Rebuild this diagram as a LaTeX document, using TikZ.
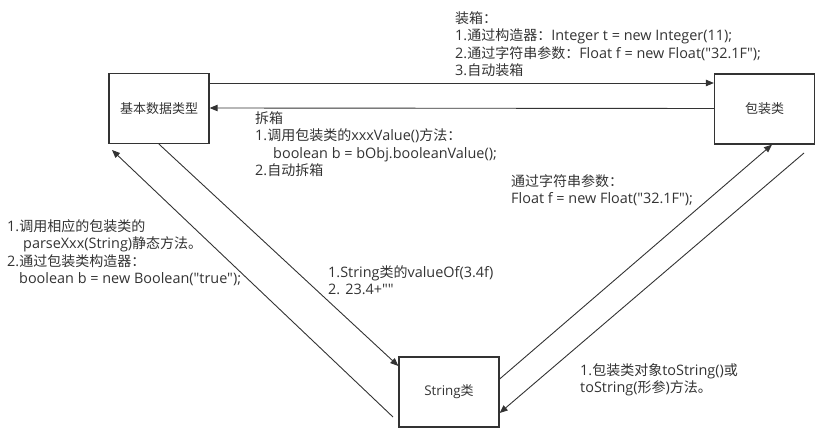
\documentclass[tikz,border=0pt]{standalone}
\usepackage{fontspec}
\setmainfont{Open Sans}[Scale=1.03,Ligatures=TeXOff]
\newfontfamily\zhfont{Noto Sans CJK SC}[Ligatures=TeXOff]
\newcommand\zh[1]{{\zhfont #1}}
\usetikzlibrary{arrows.meta,calc}
\definecolor{ink}{HTML}{333333}
\begin{document}
\begin{tikzpicture}[x=1pt,y=-1pt,
  box/.style={draw=ink,line width=1.3pt,minimum width=100pt,minimum height=70pt,inner sep=0pt,font=\fontsize{13}{15}\selectfont,text=ink},
  conn/.style={draw=ink,line width=0.9pt,-{Triangle[length=8pt,width=6.5pt]}},
  lbl/.style={anchor=north west,align=left,inner sep=0pt,text=ink,font=\fontsize{14}{17.5}\selectfont}]
\useasboundingbox (0,0) rectangle (825,443);
\node[box] (A) at (159,108.5) {\zh{基本数据类型}};
\node[box] (B) at (764.5,109) {\zh{包装类}};
\node[box] (C) at (449,392) {String\zh{类}};
\coordinate (cA) at (393,417);
\coordinate (tA) at (112,150);
\coordinate (sB) at (804,153);
\draw[conn] ([yshift=25.5pt]A.east) -- ([yshift=26pt]B.west);
\draw[conn] ([yshift=0.5pt]B.west) -- ([yshift=0.5pt]A.east);
\draw[conn] (A.south) -- ([yshift=26pt]C.west);
\draw[conn] (cA) -- (tA);
\draw[conn] ([yshift=13pt]C.east) -- ([xshift=7.5pt]B.south);
\draw[conn] (sB) -- ([yshift=-21pt]C.east);
\node[lbl] (l1) at (455,11) {\zh{装箱：}\\1.\zh{通过构造器：}Integer t = new Integer(11);\\2.\zh{通过字符串参数：}Float f = new Float("32.1F");\\3.\zh{自动装箱}};
\node[lbl] (l2) at (255,111) {\zh{拆箱}\\1.\zh{调用包装类的}xxxValue()\zh{方法：}\\\hspace*{18pt}boolean b = bObj.booleanValue();\\2.\zh{自动拆箱}};
\node[lbl] (l3) at (511,174) {\zh{通过字符串参数：}\\Float f = new Float("32.1F");};
\node[lbl] (l4) at (7,219) {1.\zh{调用相应的包装类的}\\\hspace*{16pt}parseXxx(String)\zh{静态方法。}\\2.\zh{通过包装类构造器：}\\\hspace*{12pt}boolean b = new Boolean("true");};
\node[lbl] (l5) at (328,265) {1.String\zh{类的}valueOf(3.4f)\\2. 23.4+""};
\node[lbl] (l6) at (580,363) {1.\zh{包装类对象}toString()\zh{或}\\toString(\zh{形参})\zh{方法。}};
\end{tikzpicture}
\end{document}
